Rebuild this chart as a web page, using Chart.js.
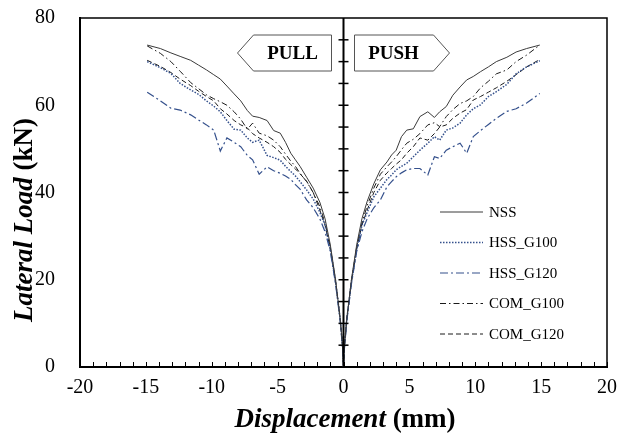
<!DOCTYPE html>
<html lang="en">
<head>
<meta charset="UTF-8">
<title>Lateral load vs displacement</title>
<script src="https://cdn.jsdelivr.net/npm/chart.js"></script>
<style>
  html, body { margin: 0; padding: 0; background: #fff; }
</style>
</head>
<body>
<canvas id="myChart" width="618" height="437"></canvas>
<script>
// displacement (mm), pull side then push side
const disp = [-14.9, -13.9, -13.1, -12.4, -11.6, -11.0, -10.4, -9.85, -9.35, -8.85,
  -8.3, -7.8, -7.3, -6.9, -6.4, -5.8, -5.3, -4.8, -4.4, -4.0,
  -3.65, -3.3, -2.8, -2.3, -1.8, -1.4, -1.0, -0.6, -0.25, -0.05,
  0,
  0.05, 0.25, 0.6, 1.0, 1.4, 1.8, 2.3, 2.8, 3.3, 3.65,
  4.0, 4.4, 4.8, 5.3, 5.8, 6.4, 6.9, 7.3, 7.8, 8.3,
  8.85, 9.35, 9.85, 10.4, 11.0, 11.6, 12.4, 13.1, 13.9, 14.9];

// lateral load (kN)
const loadNSS = [73.8, 73.0, 72.0, 71.2, 70.3, 69.2, 68.1, 67.0, 66.0, 64.4,
  62.6, 61.0, 58.8, 57.5, 57.2, 56.5, 54.2, 53.6, 51.5, 49.0,
  47.5, 46.0, 43.5, 41.0, 37.8, 34.0, 28.0, 20.0, 11.0, 4.0,
  0,
  4, 11, 20, 28, 34, 38, 42, 45.2, 47, 48.6,
  49.7, 52.8, 54.3, 54.6, 57.4, 58.5, 57.2, 58.5, 59.7, 62.3,
  64.2, 65.8, 66.6, 67.7, 68.8, 70.0, 71.0, 72.2, 73.0, 73.8];
const loadHSS100 = [70.0, 68.6, 67.3, 65.0, 63.5, 62.5, 61.0, 59.8, 58.5, 56.5,
  54.5, 54.3, 52.5, 51.5, 52.0, 48.5, 48.0, 47.4, 46.0, 44.8,
  43.8, 42.5, 40.6, 38.5, 35.5, 32.5, 27.0, 19.5, 11.0, 4.0,
  0,
  4, 11, 19.5, 27, 32.5, 35.5, 39, 41, 43, 44,
  45.2, 46, 46.7, 48.2, 49.7, 51.3, 52.8, 52.0, 54.3, 54.8,
  55.9, 57.8, 59.2, 60.1, 62.0, 63.1, 64.8, 67.2, 68.8, 70.2];
const loadHSS120 = [63.0, 61.0, 59.3, 58.9, 57.8, 56.6, 55.5, 54.3, 49.5, 52.5,
  51.5, 50.5, 48.5, 47.5, 44.2, 45.9, 45.0, 44.4, 43.8, 43.0,
  41.8, 40.8, 38.3, 36.5, 34.0, 31.0, 26.5, 19.0, 10.5, 3.5,
  0,
  3.5, 10.5, 19, 26.5, 31, 34, 36.5, 38.3, 41.3, 42.5,
  43.6, 44.5, 45.2, 45.5, 45.5, 44.0, 48.2, 47.8, 49.7, 50.5,
  51.3, 49.0, 52.8, 54.2, 55.6, 57.0, 58.6, 59.2, 60.5, 62.7];
const loadCOM100 = [73.6, 71.9, 70.0, 67.8, 65.2, 63.8, 62.4, 61.5, 60.8, 60.0,
  58.5, 56.8, 54.5, 55.9, 53.6, 53.0, 52.0, 50.5, 48.8, 47.2,
  46.0, 44.4, 42.5, 40.0, 36.8, 33.0, 27.5, 19.5, 11.0, 4.0,
  0,
  4, 11, 19.5, 27.5, 33, 37, 41, 44.2, 45.9, 47,
  48.2, 49.8, 51.3, 52.2, 53.5, 55.5, 56.0, 55.1, 57.4, 59.0,
  60.4, 61.0, 62.0, 64.0, 65.5, 67.2, 68.1, 70.0, 71.5, 73.8];
const loadCOM120 = [70.3, 68.9, 67.5, 66.0, 64.5, 63.2, 62.0, 61.0, 59.2, 58.0,
  56.5, 55.5, 54.8, 53.5, 52.5, 51.5, 50.5, 49.2, 47.6, 46.4,
  45.4, 44.3, 42.6, 40.0, 36.0, 32.5, 27.0, 19.5, 11.0, 4.0,
  0,
  4, 11, 19.5, 27, 32.5, 36, 40, 42.8, 44.5, 45.5,
  46.5, 47.5, 49, 50.5, 52.5, 52.0, 53.5, 55.0, 55.5, 57.0,
  58.2, 59.0, 61.2, 62.0, 63.0, 64.0, 65.5, 67.0, 68.8, 70.5];

const seriesNames = ['NSS', 'HSS_G100', 'HSS_G120', 'COM_G100', 'COM_G120'];
const xTickLabels = [-20, -15, -10, -5, 0, 5, 10, 15, 20];
const yTickLabels = [0, 20, 40, 60, 80];

const serif = '"Liberation Serif", "Times New Roman", serif';
const blue = '#34508c';

function pts(loads) {
  return disp.map((d, i) => ({ x: d, y: loads[i] }));
}

// frame, inward x ticks and the centre axis with crossing ticks
const frameAndAxes = {
  id: 'frameAndAxes',
  afterDatasetsDraw(chart) {
    const { ctx, chartArea: a, scales: { x, y } } = chart;
    ctx.save();
    ctx.strokeStyle = '#000';
    ctx.lineWidth = 1.5;
    ctx.beginPath();
    ctx.moveTo(a.left, a.top);
    ctx.lineTo(a.right, a.top);
    ctx.lineTo(a.right, a.bottom);
    ctx.stroke();

    ctx.lineWidth = 1;
    x.ticks.forEach(t => {
      const px = Math.round(x.getPixelForValue(t.value)) + 0.5;
      ctx.beginPath();
      ctx.moveTo(px, a.bottom);
      ctx.lineTo(px, a.bottom - 5);
      ctx.stroke();
    });

    const x0 = x.getPixelForValue(0);
    ctx.lineWidth = 2;
    ctx.beginPath();
    ctx.moveTo(x0, a.top);
    ctx.lineTo(x0, a.bottom);
    ctx.stroke();
    ctx.lineWidth = 1.5;
    y.ticks.forEach(t => {
      if (t.value <= 0 || t.value >= 80) return;
      const py = y.getPixelForValue(t.value);
      ctx.beginPath();
      ctx.moveTo(x0 - 5, py);
      ctx.lineTo(x0 + 5, py);
      ctx.stroke();
    });
    ctx.restore();
  }
};

function arrowBox(ctx, left, right, tip, top, bottom) {
  const mid = (top + bottom) / 2;
  ctx.beginPath();
  if (tip < left) {
    ctx.moveTo(tip, mid);
    ctx.lineTo(left, top);
    ctx.lineTo(right, top);
    ctx.lineTo(right, bottom);
    ctx.lineTo(left, bottom);
  } else {
    ctx.moveTo(left, top);
    ctx.lineTo(right, top);
    ctx.lineTo(tip, mid);
    ctx.lineTo(right, bottom);
    ctx.lineTo(left, bottom);
  }
  ctx.closePath();
  ctx.fillStyle = '#fff';
  ctx.fill();
  ctx.stroke();
}

function drawMixed(ctx, parts, cx, cy) {
  let total = 0;
  parts.forEach(p => { ctx.font = p.font; p.w = ctx.measureText(p.text).width; total += p.w; });
  let px = cx - total / 2;
  ctx.textAlign = 'left';
  ctx.textBaseline = 'middle';
  parts.forEach(p => { ctx.font = p.font; ctx.fillText(p.text, px, cy); px += p.w; });
}

const annotations = {
  id: 'annotations',
  afterDraw(chart) {
    const { ctx, chartArea: a, scales: { x } } = chart;
    const x0 = x.getPixelForValue(0);
    ctx.save();

    // PULL / PUSH arrows
    ctx.strokeStyle = '#555';
    ctx.lineWidth = 1;
    const top = a.top + 17, bottom = a.top + 53;
    arrowBox(ctx, x0 - 90, x0 - 12, x0 - 106, top, bottom);
    arrowBox(ctx, x0 + 11, x0 + 90, x0 + 106, top, bottom);
    ctx.fillStyle = '#000';
    ctx.font = 'bold 19px ' + serif;
    ctx.textAlign = 'center';
    ctx.textBaseline = 'middle';
    ctx.fillText('PULL', x0 - 51, (top + bottom) / 2 + 1);
    ctx.fillText('PUSH', x0 + 50, (top + bottom) / 2 + 1);

    // legend
    ctx.font = '15px ' + serif;
    ctx.textAlign = 'left';
    chart.data.datasets.forEach((ds, i) => {
      const yy = a.top + 194 + i * 30.5;
      const lx = a.right - 167;
      ctx.strokeStyle = ds.borderColor;
      ctx.lineWidth = ds.borderWidth;
      ctx.setLineDash(ds.borderDash || []);
      ctx.beginPath();
      ctx.moveTo(lx, yy);
      ctx.lineTo(lx + 43, yy);
      ctx.stroke();
      ctx.setLineDash([]);
      ctx.fillStyle = '#000';
      ctx.fillText(ds.label, lx + 49, yy + 1);
    });

    // axis titles
    ctx.fillStyle = '#000';
    drawMixed(ctx, [
      { text: 'Displacement', font: 'italic bold 27px ' + serif },
      { text: ' (mm)', font: 'bold 27px ' + serif }
    ], 345, 420);
    ctx.translate(25, 220);
    ctx.rotate(-Math.PI / 2);
    drawMixed(ctx, [
      { text: 'Lateral Load', font: 'italic bold 27px ' + serif },
      { text: ' (kN)', font: 'bold 27px ' + serif }
    ], 0, 0);
    ctx.restore();
  }
};

const ctx = document.getElementById('myChart').getContext('2d');
const myChart = new Chart(ctx, {
  type: 'line',
  data: {
    datasets: [
      { label: seriesNames[0], data: pts(loadNSS), borderColor: '#3a3a3a', borderWidth: 1 },
      { label: seriesNames[1], data: pts(loadHSS100), borderColor: blue, borderWidth: 1.5, borderDash: [1.5, 1.5] },
      { label: seriesNames[2], data: pts(loadHSS120), borderColor: blue, borderWidth: 1.2, borderDash: [8, 3, 2, 3] },
      { label: seriesNames[3], data: pts(loadCOM100), borderColor: '#1a1a1a', borderWidth: 1, borderDash: [6, 3, 1.5, 3] },
      { label: seriesNames[4], data: pts(loadCOM120), borderColor: '#1a1a1a', borderWidth: 1, borderDash: [5, 3] }
    ]
  },
  options: {
    responsive: false,
    animation: false,
    devicePixelRatio: 1,
    elements: { point: { radius: 0 }, line: { tension: 0, fill: false } },
    layout: { padding: { top: 18, right: 11, left: 0, bottom: 0 } },
    plugins: { legend: { display: false }, tooltip: { enabled: false } },
    scales: {
      x: {
        type: 'linear',
        min: -20,
        max: 20,
        grid: { display: false },
        border: { display: true, color: '#000', width: 2 },
        ticks: {
          stepSize: 1,
          autoSkip: false,
          maxRotation: 0,
          padding: 1,
          color: '#000',
          font: { family: serif, size: 20 },
          callback: v => xTickLabels.includes(v) ? String(v) : ''
        },
        afterFit: s => { s.height = 70; s.paddingLeft = 0; s.paddingRight = 0; }
      },
      y: {
        min: 0,
        max: 80,
        grid: { display: false },
        border: { display: true, color: '#000', width: 2 },
        ticks: {
          stepSize: 5,
          autoSkip: false,
          padding: 17,
          color: '#000',
          font: { family: serif, size: 20 },
          callback: v => yTickLabels.includes(v) ? String(v) : ''
        },
        afterFit: s => { s.width = 80; s.paddingTop = 0; s.paddingBottom = 0; }
      }
    }
  },
  plugins: [frameAndAxes, annotations]
});
</script>
</body>
</html>
